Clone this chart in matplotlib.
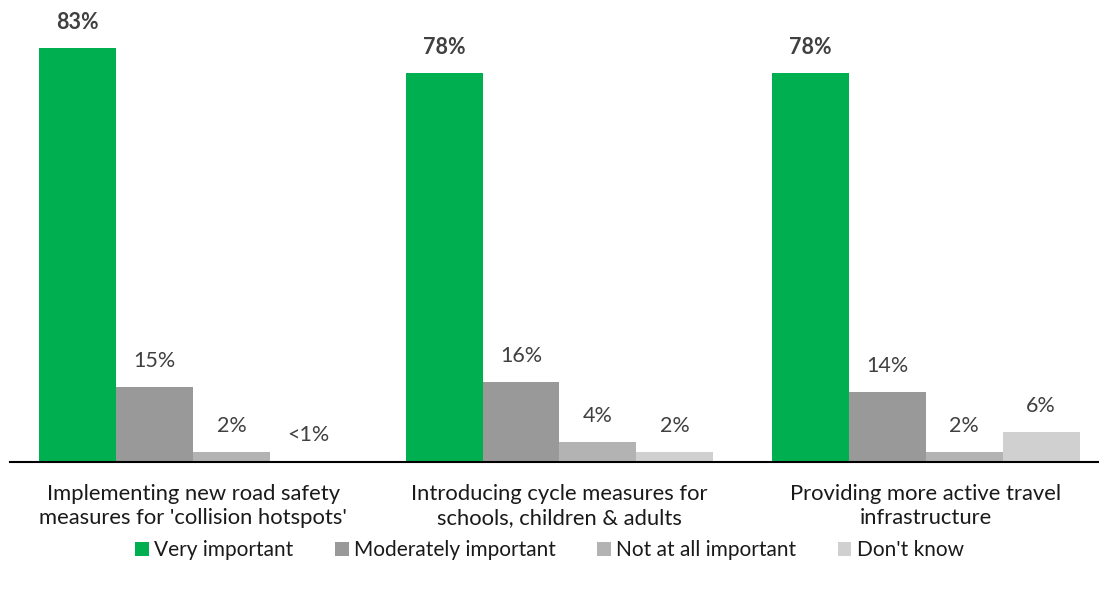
import matplotlib.pyplot as plt
import numpy as np

plt.rcParams['font.family'] = ['Lato', 'DejaVu Sans']

categories = [
    "Implementing new road safety\nmeasures for 'collision hotspots'",
    "Introducing cycle measures for\nschools, children & adults",
    "Providing more active travel\ninfrastructure",
]
series = ['Very important', 'Moderately important', 'Not at all important', "Don't know"]
values = [
    [83, 78, 78],
    [15, 16, 14],
    [2, 4, 2],
    [0.3, 2, 6],
]
labels = [
    ['83%', '78%', '78%'],
    ['15%', '16%', '14%'],
    ['2%', '4%', '2%'],
    ['<1%', '2%', '6%'],
]
colors = ['#00B050', '#999999', '#B3B3B3', '#D0D0D0']

fig = plt.figure(figsize=(10.99, 5.92), dpi=100)
ax = fig.add_axes([10 / 1099, 130 / 592, 1088 / 1099, 449 / 592])

x = np.arange(len(categories))
w = 0.21
containers = []
for i, (name, vals) in enumerate(zip(series, values)):
    pos = x + (i - 1.5) * w
    bars = ax.bar(pos, vals, w, color=colors[i], label=name, zorder=2)
    containers.append(bars)
    for p, v, t in zip(pos, vals, labels[i]):
        ax.annotate(t, (p, v), xytext=(0, 18.5), textcoords='offset points',
                    ha='center', va='center', fontsize=15.5, color='#404040',
                    fontweight='bold' if i == 0 else 'normal')

ax.set_xlim(-0.5, 2.47)
ax.set_ylim(0, 90)
ax.set_yticks([])
ax.set_xticks(x)
ax.set_xticklabels(categories, fontsize=15.8, color='#1a1a1a', linespacing=1.25)
ax.tick_params(axis='x', length=0, pad=16)
for s in ['top', 'right', 'left']:
    ax.spines[s].set_visible(False)
ax.spines['bottom'].set_linewidth(1.5)
ax.spines['bottom'].set_color('black')

fig.legend(handles=containers, loc='center', bbox_to_anchor=(0.5, 1 - 550 / 592),
           ncol=4, frameon=False, fontsize=15, handlelength=0.65, handleheight=0.65,
           handletextpad=0.25, columnspacing=2.0, labelcolor='#1a1a1a')

plt.savefig('out.png', dpi=100)
